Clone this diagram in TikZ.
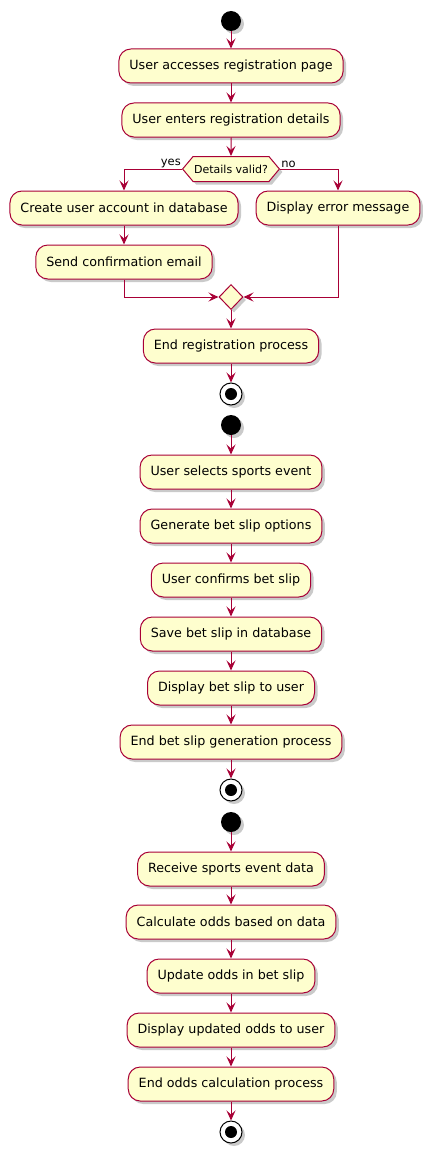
\documentclass[tikz,border=0pt]{standalone}
\usepackage{fontspec}
\setmainfont{DejaVu Sans}
\usetikzlibrary{arrows.meta,shapes.geometric,shapes.symbols,shadows}
\definecolor{umlred}{HTML}{A80036}
\definecolor{umlfill}{HTML}{FEFECE}

\begin{document}
\begin{tikzpicture}[x=1pt,y=-1pt,
    umlshadow/.style={drop shadow={shadow xshift=3pt,shadow yshift=-3pt,fill=black!35,opacity=.6}},
    action/.style={draw=umlred,fill=umlfill,line width=1pt,rounded corners=12pt,
      minimum height=34pt,inner xsep=10.5pt,font=\fontsize{12.7}{15}\selectfont,umlshadow},
    decide/.style={signal,signal to=west and east,signal pointer angle=100,draw=umlred,
      fill=umlfill,line width=1pt,minimum height=25pt,inner xsep=1pt,
      font=\fontsize{11}{13}\selectfont,umlshadow},
    merge/.style={diamond,draw=umlred,fill=umlfill,line width=1pt,minimum width=24pt,
      minimum height=25pt,inner sep=0pt,umlshadow},
    startnode/.style={circle,fill=black,minimum size=20pt,inner sep=0pt,umlshadow},
    stopnode/.style={circle,draw=black,fill=white,line width=1pt,minimum size=22pt,inner sep=0pt,umlshadow,
      path picture={\fill[black] (path picture bounding box.center) circle (6pt);}},
    flow/.style={draw=umlred,line width=1pt,-{Stealth[length=10pt,width=9pt,inset=4pt]}},
    lbl/.style={font=\fontsize{11.5}{13}\selectfont,inner sep=1pt}]
  \useasboundingbox (0,0) rectangle (428,1153);

  % Registration
  \node[startnode] (s1) at (231,21) {};
  \node[action] (a1) at (231,66) {User accesses registration page};
  \node[action] (a2) at (231,120) {User enters registration details};
  \node[decide] (dec) at (231,169) {Details valid?};
  \node[action] (c1) at (124,208) {Create user account in database};
  \node[action] (c2) at (124,262) {Send confirmation email};
  \node[action] (e1) at (338,208) {Display error message};
  \node[merge] (m1) at (231,297) {};
  \node[action] (a3) at (231,346) {End registration process};
  \node[stopnode] (t1) at (231,394) {};

  \foreach \a/\b in {s1/a1,a1/a2,a2/dec,c1/c2,m1/a3,a3/t1}
    \draw[flow] (\a) -- (\b);
  \draw[flow] (dec.west) -| (c1.north);
  \draw[flow] (dec.east) -| (e1.north);
  \draw[flow] (c2.south) |- (m1.west);
  \draw[flow] (e1.south) |- (m1.east);
  \node[lbl,anchor=south east] at (dec.west) {yes};
  \node[lbl,anchor=south west] at (dec.east) {no};

  % Bet slip
  \node[startnode] (s2) at (231,425) {};
  \node[action] (b1) at (231,472) {User selects sports event};
  \node[action] (b2) at (231,526) {Generate bet slip options};
  \node[action] (b3) at (231,580) {User confirms bet slip};
  \node[action] (b4) at (231,634) {Save bet slip in database};
  \node[action] (b5) at (231,688) {Display bet slip to user};
  \node[action] (b6) at (231,742) {End bet slip generation process};
  \node[stopnode] (t2) at (231,790) {};

  \foreach \a/\b in {s2/b1,b1/b2,b2/b3,b3/b4,b4/b5,b5/b6,b6/t2}
    \draw[flow] (\a) -- (\b);

  % Odds calculation
  \node[startnode] (s3) at (231,822) {};
  \node[action] (d1) at (231,869) {Receive sports event data};
  \node[action] (d2) at (231,922) {Calculate odds based on data};
  \node[action] (d3) at (231,976) {Update odds in bet slip};
  \node[action] (d4) at (231,1030) {Display updated odds to user};
  \node[action] (d5) at (231,1084) {End odds calculation process};
  \node[stopnode] (t3) at (231,1132) {};

  \foreach \a/\b in {s3/d1,d1/d2,d2/d3,d3/d4,d4/d5,d5/t3}
    \draw[flow] (\a) -- (\b);
\end{tikzpicture}
\end{document}
